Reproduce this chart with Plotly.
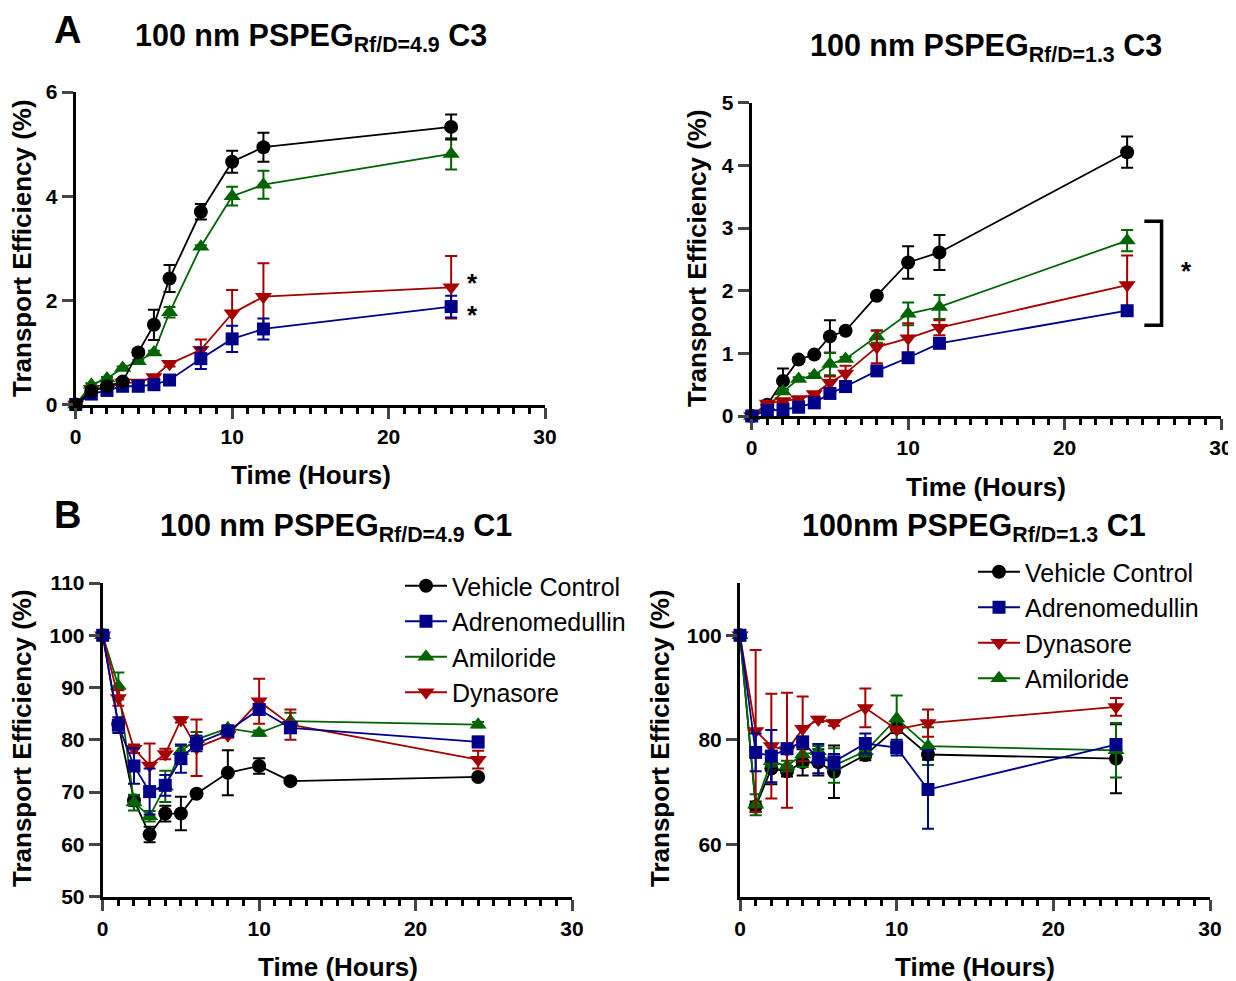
import plotly.graph_objects as go

W, H = 1236, 981
OFF = 8  # page body margin in the browser

hours = [0, 1, 2, 3, 4, 5, 6, 8, 10, 12, 24]

# A left: 100 nm PSPEG Rf/D=4.9, C3
a1_vehicle = [0, 0.26, 0.35, 0.44, 1.0, 1.53, 2.42, 3.70, 4.66, 4.94, 5.33]
a1_vehicle_err = [0, 0.05, 0.05, 0.05, 0.06, 0.29, 0.26, 0.15, 0.21, 0.28, 0.24]
a1_adreno = [0, 0.20, 0.27, 0.35, 0.35, 0.38, 0.47, 0.88, 1.26, 1.45, 1.88]
a1_adreno_err = [0, 0.03, 0.03, 0.03, 0.03, 0.03, 0.05, 0.2, 0.25, 0.2, 0.21]
a1_amil = [0, 0.38, 0.50, 0.70, 0.83, 1.0, 1.77, 3.03, 4.0, 4.22, 4.81]
a1_amil_err = [0, 0.03, 0.03, 0.03, 0.03, 0.03, 0.1, 0.03, 0.18, 0.27, 0.3]
a1_dyna = [0, 0.30, 0.30, 0.42, 0.42, 0.53, 0.78, 1.05, 1.75, 2.07, 2.25]
a1_dyna_err = [0, 0.03, 0.03, 0.03, 0.03, 0.03, 0.05, 0.2, 0.45, 0.64, 0.6]

# A right: 100 nm PSPEG Rf/D=1.3, C3
a2_vehicle = [0, 0.18, 0.56, 0.90, 0.98, 1.27, 1.36, 1.92, 2.45, 2.61, 4.21]
a2_vehicle_err = [0, 0.03, 0.2, 0.03, 0.03, 0.26, 0.03, 0.03, 0.26, 0.28, 0.25]
a2_adreno = [0, 0.085, 0.10, 0.14, 0.21, 0.36, 0.47, 0.72, 0.93, 1.16, 1.68]
a2_adreno_err = [0, 0.02, 0.02, 0.02, 0.02, 0.03, 0.03, 0.03, 0.03, 0.03, 0.03]
a2_amil = [0, 0.15, 0.39, 0.59, 0.65, 0.83, 0.91, 1.27, 1.63, 1.74, 2.80]
a2_amil_err = [0, 0.03, 0.03, 0.03, 0.03, 0.18, 0.03, 0.1, 0.18, 0.19, 0.17]
a2_dyna = [0, 0.20, 0.24, 0.27, 0.35, 0.53, 0.68, 1.10, 1.24, 1.41, 2.09]
a2_dyna_err = [0, 0.03, 0.03, 0.03, 0.03, 0.1, 0.12, 0.26, 0.24, 0.12, 0.47]

# B left: 100 nm PSPEG Rf/D=4.9, C1
b1_vehicle = [100, 83.0, 68.4, 61.9, 65.9, 65.9, 69.7, 73.7, 75.0, 72.1, 72.9]
b1_vehicle_err = [0, 0.5, 1.0, 1.5, 1.5, 3.2, 0.5, 4.3, 1.5, 0.3, 0.3]
b1_adreno = [100, 82.8, 75.0, 70.1, 71.3, 76.4, 79.3, 81.7, 85.8, 82.3, 79.6]
b1_adreno_err = [0, 1.5, 3.4, 4.4, 2.0, 2.7, 1.5, 1.0, 1.0, 1.0, 1.0]
b1_amil = [100, 90.3, 68.0, 65.4, 71.1, 77.8, 80.1, 82.2, 81.3, 83.6, 82.9]
b1_amil_err = [0, 2.6, 1.5, 1.0, 3.0, 1.0, 1.4, 0.5, 0.5, 1.6, 0.5]
b1_dyna = [100, 88.0, 78.3, 75.1, 77.3, 83.8, 78.5, 80.9, 87.4, 82.9, 76.2]
b1_dyna_err = [0, 1.5, 0.8, 4.2, 1.0, 0.5, 5.4, 0.5, 4.3, 2.9, 1.7]

# B right: 100nm PSPEG Rf/D=1.3, C1
b2_vehicle = [100, 67.2, 74.5, 74.0, 75.7, 75.7, 73.9, 77.1, 82.3, 77.2, 76.4]
b2_vehicle_err = [0, 1.0, 3.0, 1.0, 2.5, 2.5, 5.0, 1.0, 1.0, 1.0, 6.6]
b2_adreno = [100, 77.6, 76.9, 78.3, 79.6, 76.4, 75.8, 79.3, 78.5, 70.5, 79.1]
b2_adreno_err = [0, 3.6, 5.0, 1.0, 1.0, 2.8, 1.5, 1.9, 1.5, 7.5, 1.0]
b2_amil = [100, 67.6, 75.9, 75.0, 77.2, 77.8, 75.1, 77.8, 84.1, 78.8, 78.0]
b2_amil_err = [0, 2.0, 1.0, 1.0, 2.4, 1.0, 3.3, 1.0, 4.4, 3.6, 5.2]
b2_dyna = [100, 81.7, 78.8, 78.0, 82.1, 83.9, 83.2, 86.1, 82.0, 83.2, 86.3]
b2_dyna_err = [0, 15.5, 10.0, 11.0, 6.2, 0.5, 0.5, 3.7, 0.5, 2.6, 1.7]

BLACK = "#000000"
BLUE = "#000088"
GREEN = "#006400"
RED = "#a50000"
FONT = "Liberation Sans"


# positions are given in screen pixels and moved into the figure's paper space
def px_x(p):
    return (p - OFF) / W


def px_y(p):
    return 1 - (p - OFF) / H


fig = go.Figure()


def add_series(n, y, err, name, color, symbol, size, legend=None, rank=None):
    fig.add_trace(go.Scatter(
        x=hours, y=y, name=name,
        xaxis="x" if n == 1 else f"x{n}",
        yaxis="y" if n == 1 else f"y{n}",
        mode="lines+markers",
        line=dict(color=color, width=1.8),
        marker=dict(color=color, symbol=symbol, size=size),
        error_y=dict(type="data", array=err, color=color, thickness=2, width=6),
        cliponaxis=False,
        showlegend=legend is not None,
        legend=legend or "legend",
        legendrank=rank or 1000,
    ))


# panel 1 (A left)
add_series(1, a1_dyna, a1_dyna_err, "Dynasore", RED, "triangle-down", 15)
add_series(1, a1_adreno, a1_adreno_err, "Adrenomedullin", BLUE, "square", 13)
add_series(1, a1_amil, a1_amil_err, "Amiloride", GREEN, "triangle-up", 15)
add_series(1, a1_vehicle, a1_vehicle_err, "Vehicle Control", BLACK, "circle", 14)

# panel 2 (A right)
add_series(2, a2_vehicle, a2_vehicle_err, "Vehicle Control", BLACK, "circle", 14)
add_series(2, a2_amil, a2_amil_err, "Amiloride", GREEN, "triangle-up", 15)
add_series(2, a2_dyna, a2_dyna_err, "Dynasore", RED, "triangle-down", 15)
add_series(2, a2_adreno, a2_adreno_err, "Adrenomedullin", BLUE, "square", 13)

# panel 3 (B left)
add_series(3, b1_vehicle, b1_vehicle_err, "Vehicle Control", BLACK, "circle", 14, "legend", 1)
add_series(3, b1_amil, b1_amil_err, "Amiloride", GREEN, "triangle-up", 15, "legend", 3)
add_series(3, b1_dyna, b1_dyna_err, "Dynasore", RED, "triangle-down", 15, "legend", 4)
add_series(3, b1_adreno, b1_adreno_err, "Adrenomedullin", BLUE, "square", 13, "legend", 2)

# panel 4 (B right)
add_series(4, b2_vehicle, b2_vehicle_err, "Vehicle Control", BLACK, "circle", 14, "legend2", 1)
add_series(4, b2_amil, b2_amil_err, "Amiloride", GREEN, "triangle-up", 15, "legend2", 4)
add_series(4, b2_dyna, b2_dyna_err, "Dynasore", RED, "triangle-down", 15, "legend2", 3)
add_series(4, b2_adreno, b2_adreno_err, "Adrenomedullin", BLUE, "square", 13, "legend2", 2)

tickfont = dict(family=FONT, size=21, color="black", weight="bold")


def xaxis(x0, x1, anchor):
    return dict(
        domain=[px_x(x0), px_x(x1)], anchor=anchor, range=[0, 30],
        tickvals=[0, 10, 20, 30], ticks="outside", ticklen=11, tickwidth=3,
        showline=True, linewidth=3, linecolor="black", showgrid=False,
        zeroline=False, tickfont=tickfont, automargin=False,
        minor=dict(dtick=1, ticks="outside", ticklen=6, tickwidth=2.5, tickcolor="black"),
    )


def yaxis(y0, y1, anchor, rng, vals):
    return dict(
        domain=[px_y(y1), px_y(y0)], anchor=anchor, range=rng,
        tickvals=vals, ticks="outside", ticklen=11, tickwidth=3,
        showline=True, linewidth=3, linecolor="black", showgrid=False,
        zeroline=False, tickfont=tickfont, automargin=False,
    )


legend_font = dict(family=FONT, size=25, color="black")

fig.update_layout(
    width=W, height=H,
    margin=dict(l=0, r=0, t=0, b=0, autoexpand=False),
    plot_bgcolor="white", paper_bgcolor="white",
    font=dict(family=FONT, color="black"),
    xaxis=xaxis(75.7, 545, "y"),
    yaxis=yaxis(92, 404.5, "x", [0, 6], [0, 2, 4, 6]),
    xaxis2=xaxis(751.7, 1221, "y2"),
    yaxis2=yaxis(102.7, 416, "x2", [0, 5], [0, 1, 2, 3, 4, 5]),
    xaxis3=xaxis(102.7, 572, "y3"),
    yaxis3=yaxis(583, 896.7, "x3", [50, 110], [50, 60, 70, 80, 90, 100, 110]),
    xaxis4=xaxis(740, 1210, "y4"),
    yaxis4=yaxis(583, 896.7, "x4", [50, 110], [60, 80, 100]),
    legend=dict(x=px_x(400), y=px_y(563), xanchor="left", yanchor="top",
                font=legend_font, bgcolor="rgba(0,0,0,0)", tracegroupgap=0, itemwidth=42),
    legend2=dict(x=px_x(973), y=px_y(549), xanchor="left", yanchor="top",
                 font=legend_font, bgcolor="rgba(0,0,0,0)", tracegroupgap=0, itemwidth=42),
)

bold = dict(family=FONT, color="black", weight="bold")
annotations = [
    ("A", 67, 30, 38, 0),
    ("B", 67, 515, 38, 0),
    ("100 nm PSPEG<sub>Rf/D=4.9</sub> C3", 311, 37, 30.5, 0),
    ("100 nm PSPEG<sub>Rf/D=1.3</sub> C3", 986, 47, 30.5, 0),
    ("100 nm PSPEG<sub>Rf/D=4.9</sub> C1", 336, 527, 30.5, 0),
    ("100nm PSPEG<sub>Rf/D=1.3</sub> C1", 974, 527, 30.5, 0),
    ("Transport Efficiency (%)", 22, 248, 26, -90),
    ("Transport Efficiency (%)", 697, 258, 26, -90),
    ("Transport Efficiency (%)", 22, 738, 26, -90),
    ("Transport Efficiency (%)", 660, 738, 26, -90),
    ("Time (Hours)", 311, 475, 26, 0),
    ("Time (Hours)", 986, 487, 26, 0),
    ("Time (Hours)", 338, 967, 26, 0),
    ("Time (Hours)", 975, 967, 26, 0),
    ("*", 472, 283, 26, 0),
    ("*", 472, 315, 26, 0),
    ("*", 1186, 271, 26, 0),
]
for text, x, y, size, angle in annotations:
    fig.add_annotation(text=text, x=px_x(x), y=px_y(y), xref="paper", yref="paper",
                       showarrow=False, textangle=angle, xanchor="center", yanchor="middle",
                       font=dict(bold, size=size))

# significance bracket on the A right panel
fig.add_shape(type="path", path="M 25.1,3.11 L 26.2,3.11 L 26.2,1.45 L 25.1,1.45",
              xref="x2", yref="y2", line=dict(color="black", width=3.5))

fig.write_html("out.html")
